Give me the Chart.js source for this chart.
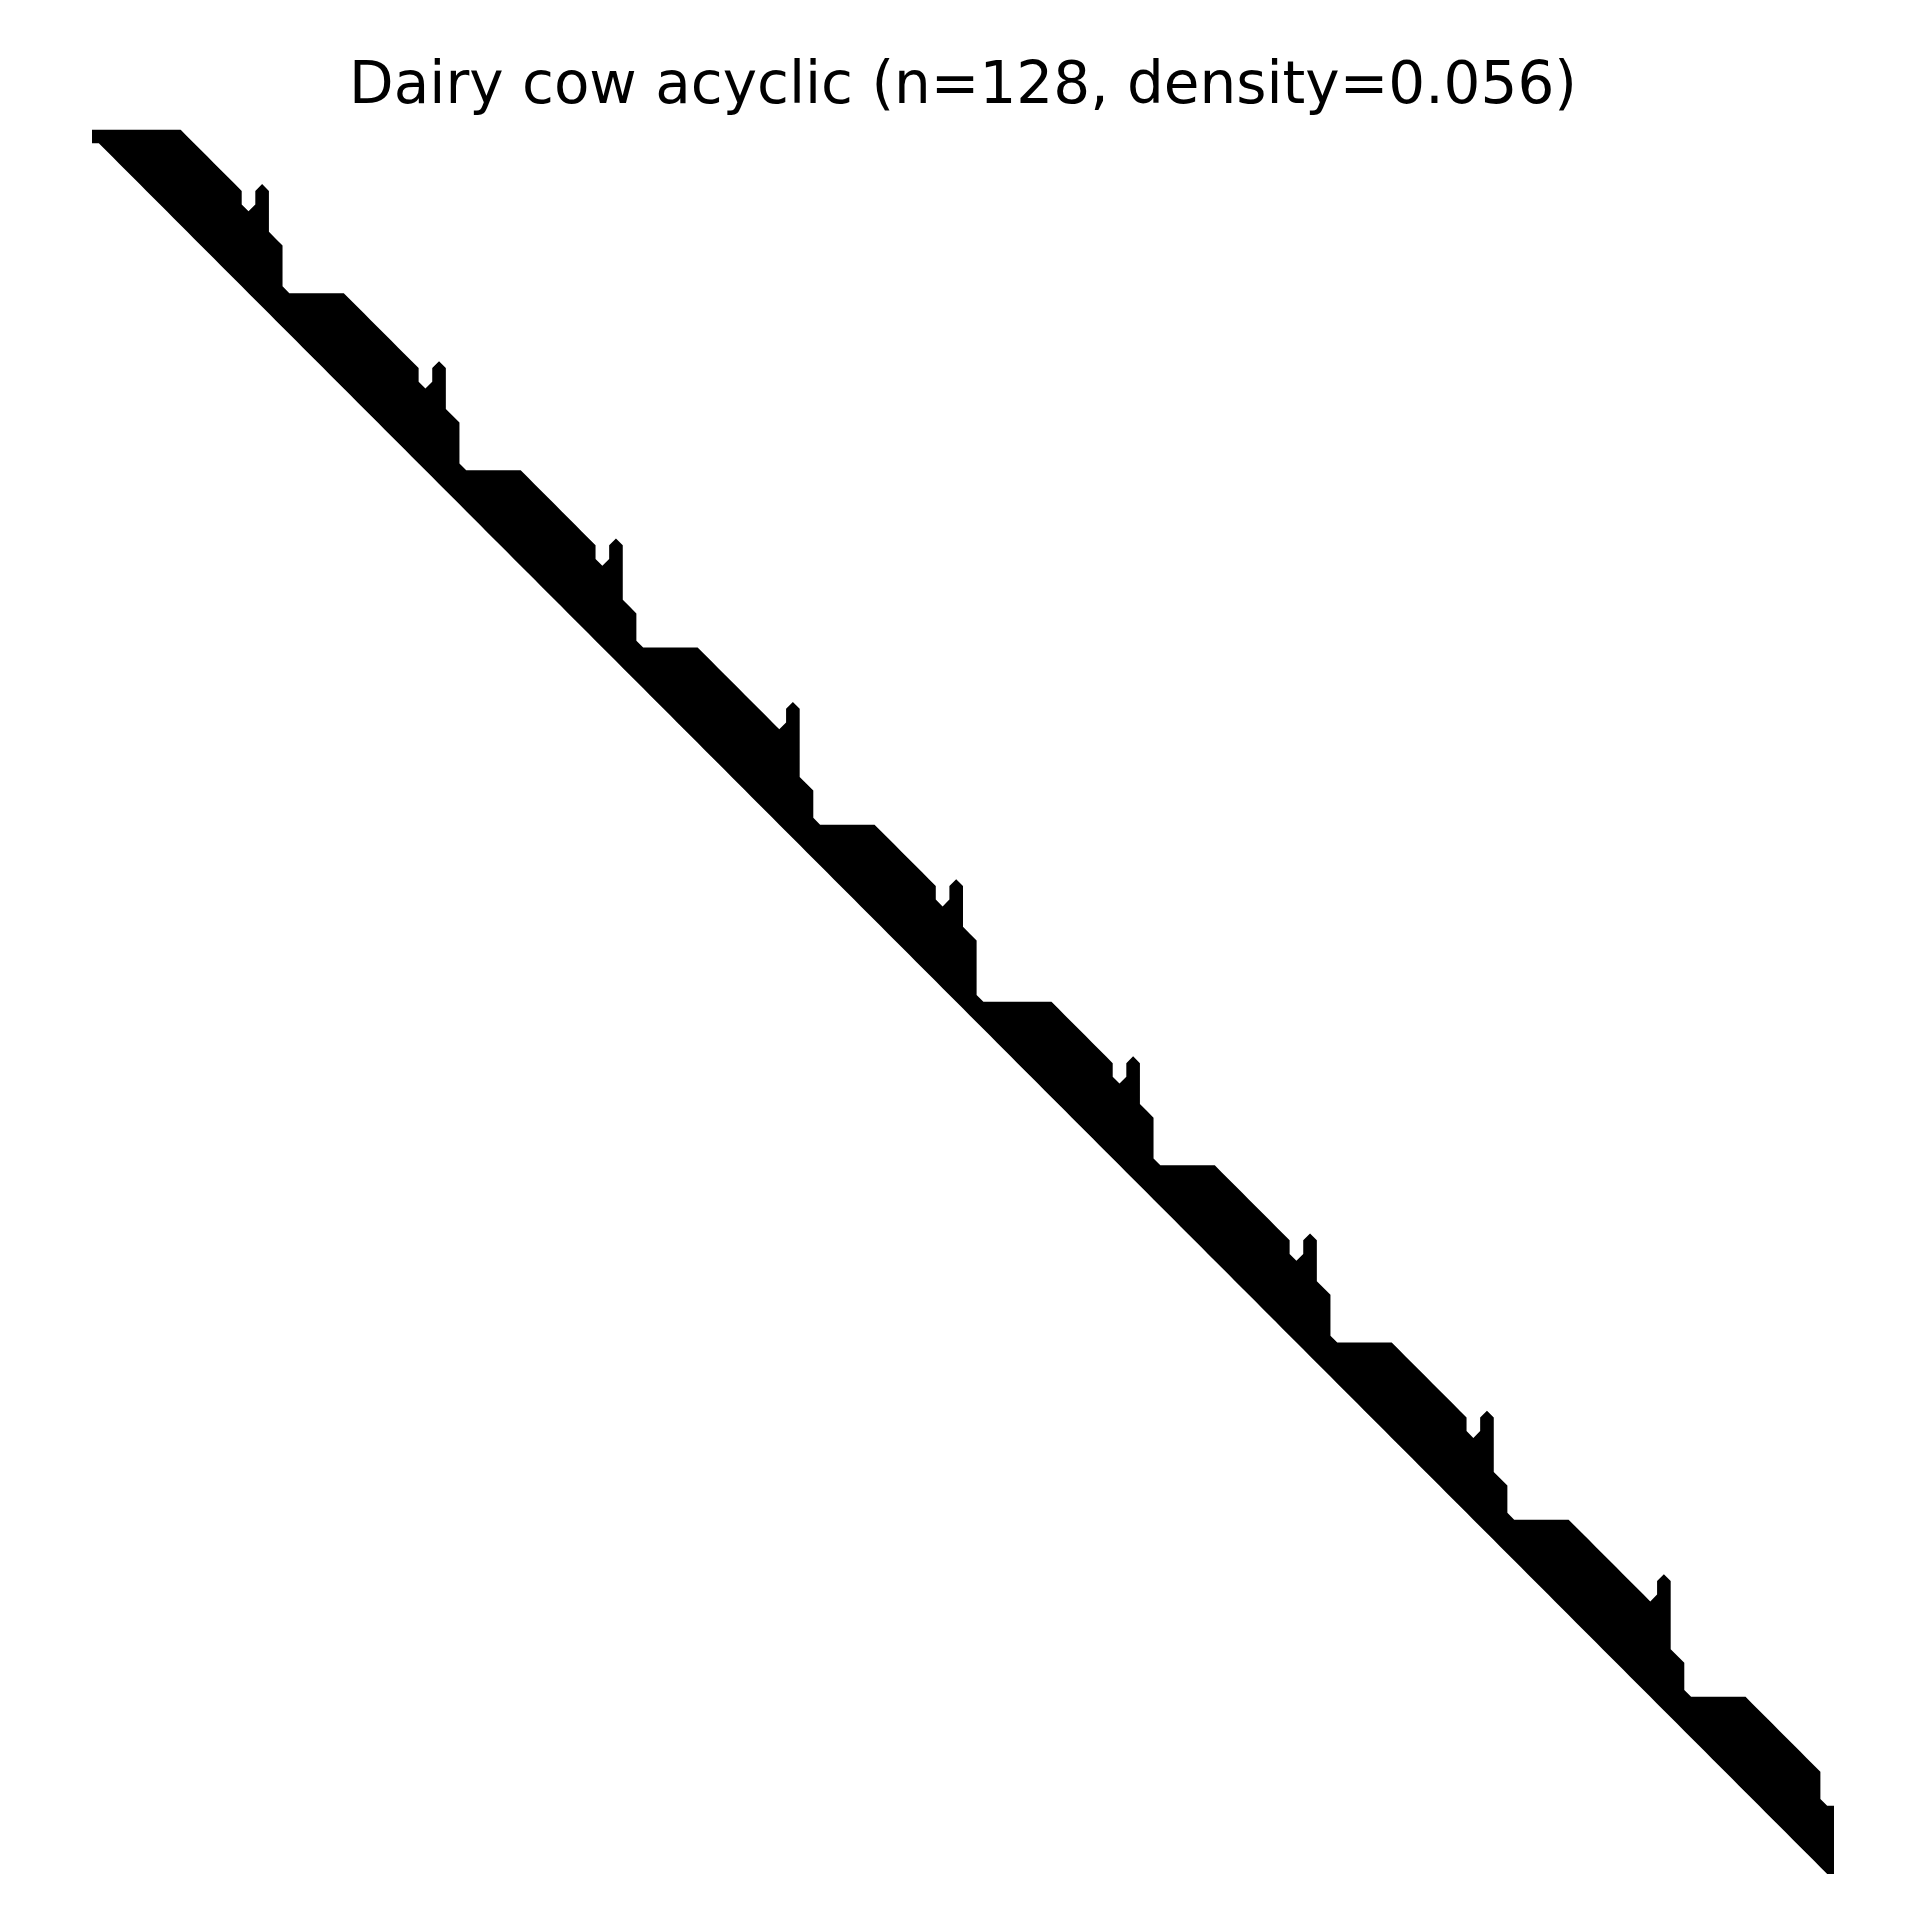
<!DOCTYPE html>
<html><head><meta charset="utf-8">
<script src="https://cdn.jsdelivr.net/npm/chart.js@4/dist/chart.umd.min.js"></script>
<style>html,body{margin:0;padding:0;background:#fff;} canvas{display:block;}</style>
</head><body>
<canvas id="c" width="1925" height="1925"></canvas>
<script>
const titleText = 'Dairy cow acyclic (n=128, density=0.056)';
const matrixSize = 128;

// first nonzero column in each row (diagonal)
const rowStart = [
  0,1,2,3,4,5,6,7,8,9,10,11,
  12,13,14,15,16,17,18,19,20,21,22,23,24,
  25,26,27,28,29,30,31,32,33,34,35,36,37,
  38,39,40,41,42,43,44,45,46,47,48,49,50,
  51,52,53,54,55,56,57,58,59,60,61,62,63,
  64,65,66,67,68,69,70,71,72,73,74,75,
  76,77,78,79,80,81,82,83,84,85,86,87,88,
  89,90,91,92,93,94,95,96,97,98,99,100,101,
  102,103,104,105,106,107,108,109,110,111,112,113,114,
  115,116,117,118,119,120,121,122,123,124,125,126,127
];
// last nonzero column of the contiguous run in each row
const rowEnd = [
  6,7,8,9,10,10,11,12,13,13,13,13,
  18,19,20,21,22,23,23,24,25,26,26,26,26,
  31,32,33,34,35,36,36,37,38,38,39,39,39,
  44,45,46,47,48,49,50,50,51,51,52,52,52,
  57,58,59,60,61,61,63,63,64,64,64,64,64,
  70,71,72,73,74,74,75,76,77,77,77,77,
  82,83,84,85,86,87,87,88,89,90,90,90,90,
  95,96,97,98,99,100,100,101,102,102,103,103,103,
  108,109,110,111,112,113,114,114,115,115,116,116,116,
  121,122,123,124,125,126,126,126,127,127,127,127,127
];
// isolated entries (the short vertical ticks)
const spurRows = [4,5,6, 17,18,19, 30,31,32, 42,43,44,45, 55,56, 68,69,70, 81,82,83, 94,95,96, 106,107,108,109];
const spurCols = [12,12,12, 25,25,25, 38,38,38, 51,51,51,51, 63,63, 76,76,76, 89,89,89, 102,102,102, 115,115,115,115];

// ---- column extents of the nonzero pattern ----
const colTop = new Array(matrixSize).fill(Infinity);
const colBottom = new Array(matrixSize).fill(-Infinity);
function mark(r, c) {
  colTop[c] = Math.min(colTop[c], r);
  colBottom[c] = Math.max(colBottom[c], r);
}
rowStart.forEach((s, r) => { for (let c = s; c <= rowEnd[r]; c++) mark(r, c); });
spurRows.forEach((r, k) => mark(r, spurCols[k]));

// ---- 0.5 contour of the pattern (marching squares on cell centres) ----
const lo = -0.5, hi = matrixSize - 0.5, last = matrixSize - 1;
const outline = [];
outline.push({ x: lo, y: colTop[0] - 0.5 });
for (let c = 0; c < matrixSize; c++) {
  outline.push({ x: c, y: colTop[c] - 0.5 });
  if (c < last) {
    const t1 = colTop[c], t2 = colTop[c + 1];
    if (t2 > t1) for (let r = t1; r <= t2 - 1; r++) outline.push({ x: c + 0.5, y: r });
    if (t2 < t1) for (let r = t1 - 1; r >= t2; r--) outline.push({ x: c + 0.5, y: r });
  }
}
outline.push({ x: hi, y: colTop[last] - 0.5 });
outline.push({ x: hi, y: colBottom[last] + 0.5 });
for (let c = last; c >= 0; c--) {
  outline.push({ x: c, y: colBottom[c] + 0.5 });
  if (c > 0) {
    const b1 = colBottom[c - 1], b2 = colBottom[c];
    if (b2 > b1) for (let r = b2; r >= b1 + 1; r--) outline.push({ x: c - 0.5, y: r });
    if (b2 < b1) for (let r = b2 + 1; r <= b1; r++) outline.push({ x: c - 0.5, y: r });
  }
}
outline.push({ x: lo, y: colBottom[0] + 0.5 });

new Chart(document.getElementById('c'), {
  type: 'scatter',
  data: {
    datasets: [{
      label: 'nonzeros',
      data: outline,
      showLine: true,
      fill: 'shape',
      tension: 0,
      backgroundColor: '#000000',
      borderColor: '#000000',
      borderWidth: 0,
      pointRadius: 0,
      pointHoverRadius: 0
    }]
  },
  options: {
    responsive: false,
    animation: false,
    devicePixelRatio: 1,
    events: [],
    layout: { padding: { left: 92, right: 91, top: 0, bottom: 51 } },
    plugins: {
      legend: { display: false },
      tooltip: { enabled: false },
      title: {
        display: true,
        text: titleText,
        color: '#000000',
        font: { family: 'DejaVu Sans', size: 58, weight: 'normal', lineHeight: 1.2 },
        padding: { top: 53, bottom: 7 }
      }
    },
    scales: {
      x: { type: 'linear', min: lo, max: hi, display: false },
      y: { type: 'linear', min: lo, max: hi, reverse: true, display: false }
    }
  }
});
</script>
</body></html>
